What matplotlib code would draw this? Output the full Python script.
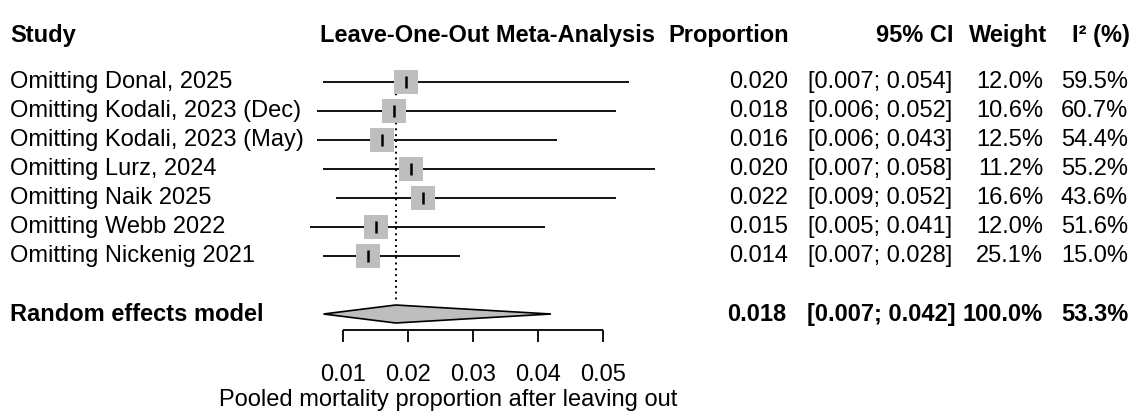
import matplotlib
matplotlib.use('Agg')
import matplotlib.pyplot as plt
from matplotlib.patches import Polygon

plt.rcParams['font.family'] = ['Liberation Sans', 'DejaVu Sans']

# ── Data ─────────────────────────────────────────────────────────
studies = ["Omitting Donal, 2025", "Omitting Kodali, 2023 (Dec)",
           "Omitting Kodali, 2023 (May)", "Omitting Lurz, 2024",
           "Omitting Naik 2025", "Omitting Webb 2022", "Omitting Nickenig 2021"]
prop = [0.0197, 0.0178, 0.0160, 0.0204, 0.0223, 0.0151, 0.0138]
lower = [0.007, 0.006, 0.006, 0.007, 0.009, 0.005, 0.007]
upper = [0.054, 0.052, 0.043, 0.058, 0.052, 0.041, 0.028]
weight = [12.0, 10.6, 12.5, 11.2, 16.6, 12.0, 25.1]
i2 = [59.5, 60.7, 54.4, 55.2, 43.6, 51.6, 15.0]

pooled_prop = 0.0181
pooled_lower = 0.007
pooled_upper = 0.042
pooled_weight = 100.0
pooled_i2 = 53.3

ticks = [0.01, 0.02, 0.03, 0.04, 0.05]

W, H = 1133, 415
fig = plt.figure(figsize=(W / 100, H / 100), dpi=100)
ax = fig.add_axes([0, 0, 1, 1])
ax.axis('off')

# x: 65 px per 0.01, 0.01 at px 343; y: rows 29 px apart, row 0 at px 82
px_per_unit = 6500.0
x0 = 0.01 - 343 / px_per_unit
ax.set_xlim(x0, x0 + W / px_per_unit)
ax.set_ylim((H - 82) / 29, -82 / 29)

fs = 17
tr = ax.get_yaxis_transform()   # x in axes fraction, y in rows

def px(x):
    return x / W

rows = list(range(len(studies)))
pooled_row = len(studies) + 1

# ── Forest part ──────────────────────────────────────────────────
ax.vlines(pooled_prop, -0.41, 7.6, colors='black', linestyles=(0, (1, 2)), linewidth=1.4)
ax.hlines(rows, lower, upper, colors='black', linewidth=1.3)
ax.scatter(prop, rows, marker='s', s=290, color='#bebebe', zorder=3, linewidths=0)
ax.scatter(prop, rows, marker='|', s=70, color='black', zorder=4, linewidths=1.8)

dh = 0.31
diamond = Polygon([(pooled_lower, pooled_row), (pooled_prop, pooled_row - dh),
                   (pooled_upper, pooled_row), (pooled_prop, pooled_row + dh)],
                  closed=True, facecolor='#bebebe', edgecolor='black', linewidth=1.2, zorder=3)
ax.add_patch(diamond)

# axis
axis_y = 8.55
ax.hlines(axis_y, ticks[0], ticks[-1], colors='black', linewidth=1.3)
ax.vlines(ticks, axis_y, axis_y + 0.42, colors='black', linewidth=1.3)
for t in ticks:
    ax.text(t, 10.1, f"{t:.2f}", ha='center', va='center', fontsize=fs)
ax.text(px(448), 10.97, "Pooled mortality proportion after leaving out",
        transform=tr, ha='center', va='center', fontsize=fs)

# ── Headers ──────────────────────────────────────────────────────
hy = -1.62
ax.text(px(10), hy, "Study", transform=tr, ha='left', va='center', fontsize=fs, fontweight='bold')
ax.text(px(488), hy, "Leave-One-Out Meta-Analysis", transform=tr, ha='center', va='center',
        fontsize=fs, fontweight='bold')
ax.text(px(789), hy, "Proportion", transform=tr, ha='right', va='center', fontsize=fs, fontweight='bold')
ax.text(px(953), hy, "95% CI", transform=tr, ha='right', va='center', fontsize=fs, fontweight='bold')
ax.text(px(1047), hy, "Weight", transform=tr, ha='right', va='center', fontsize=fs, fontweight='bold')
ax.text(px(1130), hy, "I² (%)", transform=tr, ha='right', va='center', fontsize=fs, fontweight='bold')

# ── Study rows ───────────────────────────────────────────────────
for r, name, p, lo, up, w, h in zip(rows, studies, prop, lower, upper, weight, i2):
    ax.text(px(10), r, name, transform=tr, ha='left', va='center', fontsize=fs)
    ax.text(px(788), r, f"{p:.3f}", transform=tr, ha='right', va='center', fontsize=fs)
    ax.text(px(952), r, f"[{lo:.3f}; {up:.3f}]", transform=tr, ha='right', va='center', fontsize=fs)
    ax.text(px(1043), r, f"{w:.1f}%", transform=tr, ha='right', va='center', fontsize=fs)
    ax.text(px(1128), r, f"{h:.1f}%", transform=tr, ha='right', va='center', fontsize=fs)

# ── Pooled row ───────────────────────────────────────────────────
bold = dict(transform=tr, va='center', fontsize=fs, fontweight='bold')
ax.text(px(10), pooled_row, "Random effects model", ha='left', **bold)
ax.text(px(786), pooled_row, f"{pooled_prop:.3f}", ha='right', **bold)
ax.text(px(956), pooled_row, f"[{pooled_lower:.3f}; {pooled_upper:.3f}]", ha='right', **bold)
ax.text(px(1043), pooled_row, f"{pooled_weight:.1f}%", ha='right', **bold)
ax.text(px(1128), pooled_row, f"{pooled_i2:.1f}%", ha='right', **bold)

fig.savefig("out.png", dpi=100)
plt.close(fig)
